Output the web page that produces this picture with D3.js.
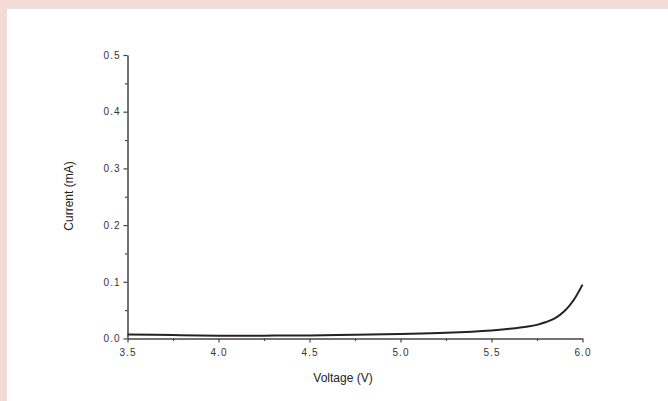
<!DOCTYPE html>
<html>
<head>
<meta charset="utf-8">
<script src="https://cdn.jsdelivr.net/npm/d3@7"></script>
<style>
  body { margin: 0; background: #fff; }
  svg { display: block; font-family: Arial, "Liberation Sans", sans-serif; }
</style>
</head>
<body>
<svg id="chart" width="668" height="401"></svg>
<script>
// I-V curve
var voltage = [3.5, 3.75, 4.0, 4.25, 4.5, 4.75, 5.0, 5.25, 5.5, 5.6, 5.7, 5.75, 5.8, 5.85, 5.9, 5.95, 6.0];
var current = [0.007, 0.006, 0.005, 0.005, 0.0055, 0.0065, 0.008, 0.010, 0.014, 0.017, 0.021, 0.024, 0.029, 0.036, 0.048, 0.067, 0.095];
var xTicks = [3.5, 4.0, 4.5, 5.0, 5.5, 6.0];
var yTicks = [0.0, 0.1, 0.2, 0.3, 0.4, 0.5];

var svg = d3.select("#chart");

// fond rose + panneau blanc
svg.append("rect").attr("width", 668).attr("height", 401).attr("fill", "#f2dad5");
svg.append("rect").attr("x", 7).attr("y", 8).attr("width", 661).attr("height", 393).attr("fill", "#fff");
svg.append("line").attr("x1", 7).attr("x2", 668).attr("y1", 8.5).attr("y2", 8.5)
  .attr("stroke", "#dfe6ee").attr("stroke-width", 1);

var x = d3.scaleLinear().domain([3.5, 6.0]).range([127.5, 582.5]);
var y = d3.scaleLinear().domain([0, 0.5]).range([338.5, 55]);

var axisColor = "#444";

// axe X
var gx = svg.append("g").attr("transform", "translate(0," + y(0) + ")");
gx.call(d3.axisBottom(x).tickValues(xTicks).tickFormat(d3.format(".1f")).tickSize(4).tickSizeOuter(0));
gx.append("g").call(d3.axisBottom(x).tickValues([3.75, 4.25, 4.75, 5.25, 5.75]).tickFormat("").tickSize(2.5).tickSizeOuter(0))
  .select(".domain").remove();

// axe Y
var gy = svg.append("g").attr("transform", "translate(" + x(3.5) + ",0)");
gy.call(d3.axisLeft(y).tickValues(yTicks).tickFormat(d3.format(".1f")).tickSize(4).tickSizeOuter(0));
gy.append("g").call(d3.axisLeft(y).tickValues([0.05, 0.15, 0.25, 0.35, 0.45]).tickFormat("").tickSize(2.5).tickSizeOuter(0))
  .select(".domain").remove();

svg.selectAll(".domain").attr("stroke", axisColor).attr("stroke-width", 1.5);
svg.selectAll(".tick line").attr("stroke", axisColor).attr("stroke-width", 1.2);
svg.selectAll(".tick text").attr("fill", "#333").attr("font-size", 10).attr("letter-spacing", 1)
  .attr("font-family", "Arial, 'Liberation Sans', sans-serif");
gx.selectAll(".tick text").attr("dy", "1.05em");

// titres des axes
svg.append("text").attr("x", 343).attr("y", 382).attr("text-anchor", "middle")
  .attr("font-size", 12).attr("fill", "#222").text("Voltage (V)");
svg.append("text").attr("transform", "translate(73,196) rotate(-90)").attr("text-anchor", "middle")
  .attr("font-size", 12).attr("fill", "#222").text("Current (mA)");

// courbe
var pts = voltage.map(function(v, i) { return [v, current[i]]; });
var line = d3.line().x(function(d) { return x(d[0]); }).y(function(d) { return y(d[1]); })
  .curve(d3.curveCatmullRom.alpha(0.5));
svg.append("path").datum(pts).attr("d", line).attr("fill", "none")
  .attr("stroke", "#222").attr("stroke-width", 2);
</script>
</body>
</html>
